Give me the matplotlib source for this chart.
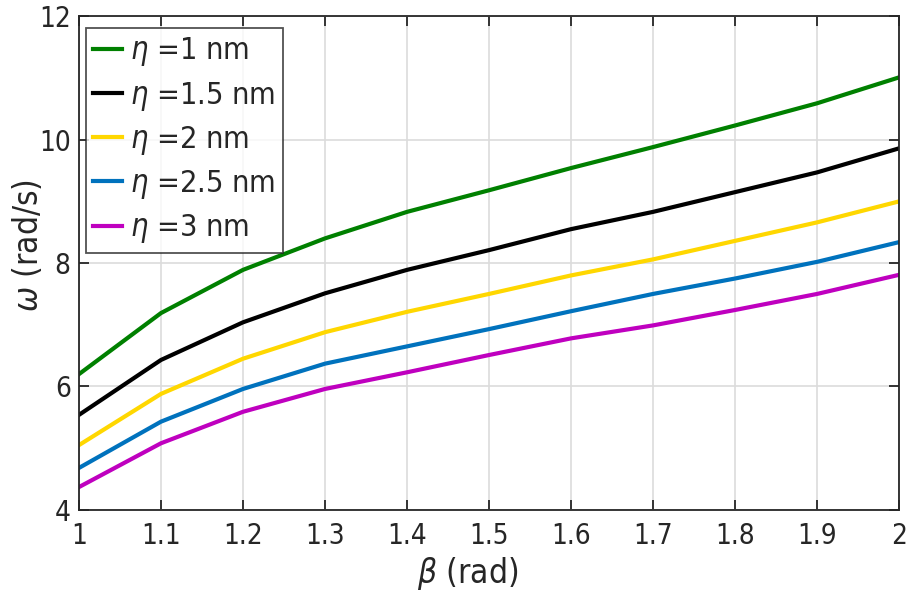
import matplotlib
matplotlib.use("Agg")
import matplotlib.pyplot as plt

BETA = [1.0, 1.1, 1.2, 1.3, 1.4, 1.5, 1.6, 1.7, 1.8, 1.9, 2.0]
OMEGA_1NM = [6.20, 7.19, 7.89, 8.40, 8.83, 9.18, 9.54, 9.88, 10.23, 10.59, 11.01]
OMEGA_15NM = [5.54, 6.43, 7.04, 7.51, 7.89, 8.21, 8.55, 8.83, 9.15, 9.47, 9.86]
OMEGA_2NM = [5.05, 5.88, 6.45, 6.88, 7.21, 7.50, 7.80, 8.06, 8.36, 8.66, 9.00]
OMEGA_25NM = [4.68, 5.43, 5.96, 6.37, 6.65, 6.93, 7.22, 7.50, 7.75, 8.02, 8.34]
OMEGA_3NM = [4.37, 5.08, 5.59, 5.96, 6.23, 6.51, 6.78, 6.99, 7.24, 7.50, 7.81]
LABELS = ["1", "1.5", "2", "2.5", "3"]
COLORS = ["#008000", "#000000", "#FFD700", "#0072BD", "#BF00BF"]
XTICKS = [1, 1.1, 1.2, 1.3, 1.4, 1.5, 1.6, 1.7, 1.8, 1.9, 2]
XTICKLABELS = ["1", "1.1", "1.2", "1.3", "1.4", "1.5", "1.6", "1.7", "1.8", "1.9", "2"]
YTICKS = [4, 6, 8, 10, 12]

plt.rcParams["font.family"] = ["DejaVu Sans"]
plt.rcParams["font.stretch"] = "condensed"
plt.rcParams["mathtext.fontset"] = "custom"
plt.rcParams["mathtext.it"] = "DejaVu Sans:italic"
plt.rcParams["mathtext.rm"] = "DejaVu Sans"

fig = plt.figure(figsize=(9.11, 6.02), dpi=100)
ax = fig.add_axes([0.0867, 0.153, 0.9003, 0.820])

series = [OMEGA_1NM, OMEGA_15NM, OMEGA_2NM, OMEGA_25NM, OMEGA_3NM]
for values, label, color in zip(series, LABELS, COLORS):
    ax.plot(BETA, values, color=color, lw=3.0, label=r"$\eta$ =" + label + " nm")

ax.set_xlim(1, 2)
ax.set_ylim(4, 12)
ax.set_xticks(XTICKS)
ax.set_xticklabels(XTICKLABELS)
ax.set_yticks(YTICKS)
ax.tick_params(direction="in", top=True, right=True, length=7, width=1.3,
               color="#262626", labelsize=20, labelcolor="#262626")
ax.tick_params(axis="x", pad=9)
ax.tick_params(axis="y", pad=6)
ax.grid(True, color="#dcdcdc", lw=1.2)
ax.set_axisbelow(True)
for sp in ax.spines.values():
    sp.set_color("#262626")
    sp.set_linewidth(1.3)

ax.set_xlabel(r"$\beta$ (rad)", fontsize=24, color="#262626")
ax.set_ylabel(r"$\omega$ (rad/s)", fontsize=24, color="#262626")
ax.xaxis.set_label_coords(0.474, -0.092)
ax.yaxis.set_label_coords(-0.041, 0.536)

leg = ax.legend(loc="upper left", bbox_to_anchor=(0.008, 0.977), fontsize=22,
                frameon=True, fancybox=False, handlelength=0.95, handletextpad=0.25,
                labelspacing=0.37, borderpad=0.25, borderaxespad=0)
leg.get_frame().set_edgecolor("#262626")
leg.get_frame().set_linewidth(1.3)
for t in leg.get_texts():
    t.set_color("#262626")

fig.savefig("out.png", dpi=100)
